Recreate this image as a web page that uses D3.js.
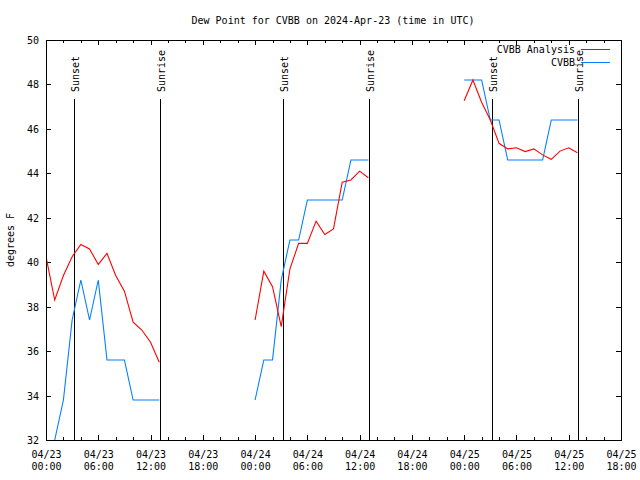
<!DOCTYPE html>
<html>
<head>
<meta charset="utf-8">
<script src="https://cdn.jsdelivr.net/npm/d3@7"></script>
<style>
  html, body { margin: 0; padding: 0; background: #fff; }
  svg { display: block; }
  text { font-family: "DejaVu Sans Mono", "Liberation Mono", monospace; font-size: 10px; fill: #000; }
</style>
</head>
<body>
<svg id="chart" width="640" height="480"></svg>
<script>
// ---------------- data ----------------
const chartTitle = "Dew Point for CVBB on 2024-Apr-23 (time in UTC)";
const yAxisLabel = "degrees F";
const seriesNames = ["CVBB Analysis", "CVBB"];

// hours after 2024-04-23 00:00 UTC
const analysisHours = [0,1,2,3,4,5,6,7,8,9,10,11,12,13,
                       24,25,26,27,28,29,30,31,32,33,34,35,36,37,
                       48,49,50,51,52,53,54,55,56,57,58,59,60,61];
const analysisDewpoint = [40.25,38.3,39.4,40.25,40.8,40.6,39.9,40.4,39.4,38.7,37.3,36.95,36.4,35.5,
                          37.4,39.6,38.9,37.1,39.7,40.85,40.85,41.85,41.25,41.5,43.6,43.7,44.1,43.8,
                          47.27,48.2,47.2,46.4,45.35,45.1,45.15,44.98,45.1,44.83,44.63,45.0,45.15,44.93];

const obsHours = [1,2,3,4,5,6,7,8,9,10,11,12,13,
                  24,25,26,27,28,29,30,31,32,33,34,35,36,37,
                  48,49,50,51,52,53,54,55,56,57,58,59,60,61];
const obsDewpoint = [32.0,33.8,37.4,39.2,37.4,39.2,35.6,35.6,35.6,33.8,33.8,33.8,33.8,
                     33.8,35.6,35.6,39.2,41.0,41.0,42.8,42.8,42.8,42.8,42.8,44.6,44.6,44.6,
                     48.2,48.2,48.2,46.4,46.4,44.6,44.6,44.6,44.6,44.6,46.4,46.4,46.4,46.4];

const sunsetTimes  = ["2024-04-23T03:14Z", "2024-04-24T03:14Z", "2024-04-25T03:14Z"];
const sunriseTimes = ["2024-04-23T13:06Z", "2024-04-24T13:06Z", "2024-04-25T13:04Z"];

const xStart = "2024-04-23T00:00Z";
const xEnd   = "2024-04-25T18:00Z";
const yTicks = [32,34,36,38,40,42,44,46,48,50];
const xTickLabels = [["04/23","00:00"],["04/23","06:00"],["04/23","12:00"],["04/23","18:00"],
                     ["04/24","00:00"],["04/24","06:00"],["04/24","12:00"],["04/24","18:00"],
                     ["04/25","00:00"],["04/25","06:00"],["04/25","12:00"],["04/25","18:00"]];

// ---------------- chart ----------------
const L = 46, R = 621, T = 40, B = 440;
const svg = d3.select("#chart");
const t0 = new Date(xStart), t1 = new Date(xEnd);
const HOUR = 3600e3;
const x = d3.scaleUtc().domain([t0, t1]).range([L, R]);
const y = d3.scaleLinear().domain([32, 50]).range([B, T]);

const majorTicks = d3.range(xTickLabels.length).map(i => new Date(+t0 + i * 6 * HOUR));
const minorTicks = d3.range(0, 67, 2).map(h => new Date(+t0 + h * HOUR)).filter(d => (+d - +t0) % (6 * HOUR) !== 0);

// title
svg.append("text").attr("x", 333).attr("y", 23.5).attr("text-anchor", "middle").text(chartTitle);
// y label
svg.append("text").attr("transform", "translate(14,240) rotate(-90)").attr("text-anchor", "middle").text(yAxisLabel);

function styleAxis(g) {
  g.select(".domain").remove();
  g.selectAll("line").attr("stroke", "#000").attr("shape-rendering", "crispEdges");
}

// bottom axis (major, with labels)
const gB = svg.append("g").attr("transform", `translate(0,${B})`)
  .call(d3.axisBottom(x).tickValues(majorTicks).tickSize(-5).tickFormat(() => ""));
styleAxis(gB);
gB.selectAll(".tick text").each(function(d, i) {
  const t = d3.select(this).attr("y", null).attr("dy", null);
  t.append("tspan").attr("x", 0).attr("y", 17.5).text(xTickLabels[i][0]);
  t.append("tspan").attr("x", 0).attr("y", 30).text(xTickLabels[i][1]);
});
gB.selectAll(".tick text").attr("font-family", null).attr("font-size", null);
// bottom minor
styleAxis(svg.append("g").attr("transform", `translate(0,${B})`)
  .call(d3.axisBottom(x).tickValues(minorTicks).tickSize(-3).tickFormat(() => "")));
// top axis
styleAxis(svg.append("g").attr("transform", `translate(0,${T})`)
  .call(d3.axisTop(x).tickValues(majorTicks).tickSize(-5).tickFormat(() => "")));
styleAxis(svg.append("g").attr("transform", `translate(0,${T})`)
  .call(d3.axisTop(x).tickValues(minorTicks).tickSize(-3).tickFormat(() => "")));
// left axis
const gL = svg.append("g").attr("transform", `translate(${L},0)`)
  .call(d3.axisLeft(y).tickValues(yTicks).tickSize(-5).tickPadding(7).tickFormat(d3.format("d")));
styleAxis(gL);
gL.selectAll(".tick text").attr("font-family", null).attr("font-size", null).attr("dy", "0.35em");
// right axis
styleAxis(svg.append("g").attr("transform", `translate(${R},0)`)
  .call(d3.axisRight(y).tickValues(yTicks).tickSize(-5).tickFormat(() => "")));

// sunrise / sunset lines
const sunEvents = sunsetTimes.map(s => ({t: new Date(s), label: "Sunset"}))
  .concat(sunriseTimes.map(s => ({t: new Date(s), label: "Sunrise"})));
sunEvents.forEach(ev => {
  const xx = Math.round(x(ev.t)) + 0.5;
  svg.append("line").attr("x1", xx).attr("x2", xx).attr("y1", 99).attr("y2", B)
    .attr("stroke", "#000").attr("stroke-width", 1).attr("shape-rendering", "crispEdges");
  svg.append("text").attr("transform", `translate(${xx + 4.5},92) rotate(-90)`)
    .attr("text-anchor", "start").text(ev.label);
});

// clip
svg.append("clipPath").attr("id", "clip").append("rect")
  .attr("x", L).attr("y", T).attr("width", R - L).attr("height", B - T);

function withGaps(hours, vals) {
  const out = [];
  hours.forEach((h, i) => {
    if (i > 0 && h - hours[i - 1] > 1) out.push(null);
    out.push({t: new Date(+t0 + h * HOUR), v: vals[i]});
  });
  return out;
}
const line = d3.line().defined(d => d !== null).x(d => x(d.t)).y(d => y(d.v));

const plot = svg.append("g").attr("clip-path", "url(#clip)");
plot.append("path").datum(withGaps(obsHours, obsDewpoint))
  .attr("d", line).attr("fill", "none").attr("stroke", "#0080ff").attr("stroke-width", 1.1);
plot.append("path").datum(withGaps(analysisHours, analysisDewpoint))
  .attr("d", line).attr("fill", "none").attr("stroke", "#ff0000").attr("stroke-width", 1.1);

// border
svg.append("rect").attr("x", L + 0.5).attr("y", T + 0.5).attr("width", R - L).attr("height", B - T)
  .attr("fill", "none").attr("stroke", "#000").attr("shape-rendering", "crispEdges");

// legend
const legendColors = ["#ff0000", "#0080ff"];
seriesNames.forEach((name, i) => {
  const cy = 49.5 + i * 13;
  svg.append("text").attr("x", 575).attr("y", cy + 3.5).attr("text-anchor", "end").text(name);
  svg.append("line").attr("x1", 581).attr("x2", 610).attr("y1", cy).attr("y2", cy)
    .attr("stroke", legendColors[i]).attr("stroke-width", 1).attr("shape-rendering", "crispEdges");
});
</script>
</body>
</html>
